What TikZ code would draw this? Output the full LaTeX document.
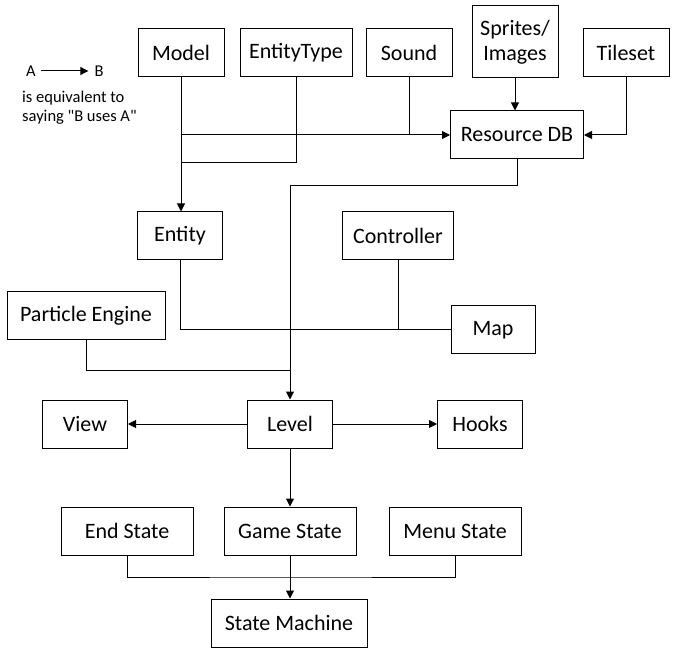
\documentclass[tikz,border=0pt]{standalone}
\usepackage{fontspec}
\setmainfont{Carlito}[Ligatures=TeXOff]
\usetikzlibrary{arrows.meta}
\begin{document}
\begin{tikzpicture}[x=1pt,y=-1pt,
  box/.style={draw,line width=1pt,rectangle,inner sep=0pt,minimum height=48pt,
    font=\fontsize{22}{25}\selectfont,align=center},
  conn/.style={line width=1pt},
  arr/.style={line width=1pt,-{Triangle[length=8pt,width=8pt]}},
  leg/.style={inner sep=0pt,font=\fontsize{16.5}{19}\selectfont}]
\useasboundingbox (0,0) rectangle (678,655);
% top row
\node[box,minimum width=86pt] (model) at (181,53) {Model};
\node[box,minimum width=112pt] (etype) at (296,53) {EntityType};
\node[box,minimum width=86pt] (sound) at (409,53) {Sound};
\node[box,minimum width=86pt,minimum height=72pt] (sprites) at (515,42) {Sprites/\\Images};
\node[box,minimum width=86pt] (tileset) at (626,53) {Tileset};
\node[box,minimum width=133pt] (rdb) at (517,135) {Resource DB};
% middle
\node[box,minimum width=85pt] (entity) at (180,236) {Entity};
\node[box,minimum width=111pt] (ctrl) at (398,236) {Controller};
\node[box,minimum width=158pt] (pe) at (86,316) {Particle Engine};
\node[box,minimum width=84pt] (map) at (493,330) {Map};
\node[box,minimum width=85pt] (level) at (290,424) {Level};
\node[box,minimum width=85pt] (view) at (85,424) {View};
\node[box,minimum width=85pt] (hooks) at (480,424) {Hooks};
% states
\node[box,minimum width=132pt] (end) at (127,531) {End State};
\node[box,minimum width=132pt] (game) at (290,531) {Game State};
\node[box,minimum width=132pt] (menu) at (455,531) {Menu State};
\node[box,minimum width=156pt] (sm) at (289,623) {State Machine};
% legend
\node[leg] (la) at (31,71) {A};
\node[leg] (lb) at (99,71) {B};
\draw[arr,shorten <=5pt,shorten >=6pt] (la.east) -- (lb.west);
\node[leg,anchor=west] (l1) at (22,98) {is equivalent to};
\node[leg,anchor=west] (l2) at (22,117) {saying "B uses A"};
% junction coordinates
\coordinate (jet) at (181,163);
\coordinate (jrdb) at (290,186);
\coordinate (jpe) at (290,370);
\coordinate (jbus) at (290,577);
% connectors top
\draw[arr] (model.south) -- (model.south |- entity.north);
\draw[arr] (model.south |- rdb.west) -- (rdb.west);
\draw[conn] (sound.south) -- (sound.south |- rdb.west);
\draw[conn] (etype.south) |- (jet);
\draw[arr] (sprites.south) -- (sprites.south |- rdb.north);
\draw[arr] (tileset.south) |- (rdb.east);
\draw[arr] (rdb.south) |- (jrdb) -- (level.north);
% middle connectors
\draw[conn] (entity.south) |- (map.west);
\draw[conn] (ctrl.south) -- (ctrl.south |- map.west);
\draw[conn] (pe.south) |- (jpe);
% level
\draw[arr] (level.west) -- (view.east);
\draw[arr] (level.east) -- (hooks.west);
\draw[arr] (level.south) -- (game.north);
% states
\draw[conn] (end.south) |- (jbus) -| (menu.south);
\draw[arr] (game.south) -- (game.south |- sm.north);
\end{tikzpicture}
\end{document}
